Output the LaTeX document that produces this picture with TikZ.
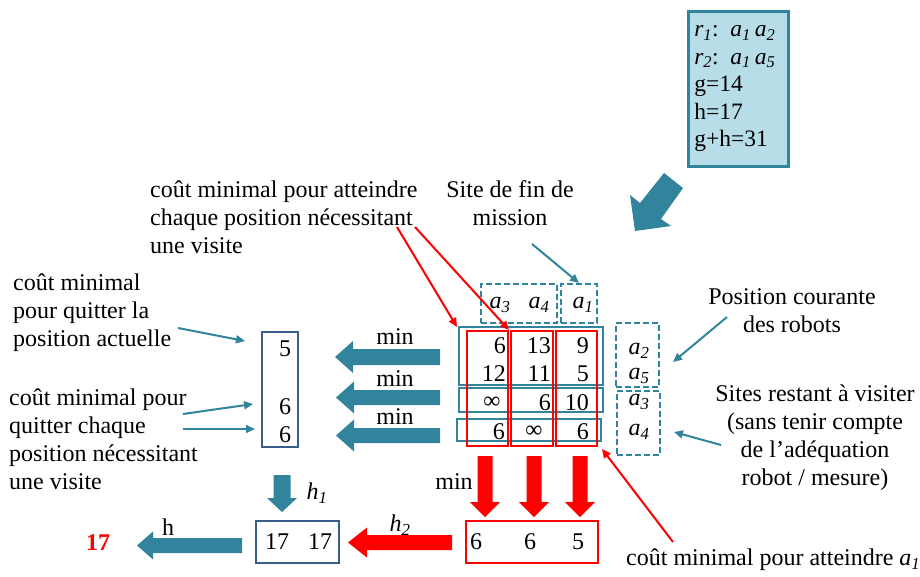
\documentclass[tikz,border=0pt]{standalone}
\usepackage{fontspec}
\setmainfont{Liberation Serif}
\usetikzlibrary{arrows.meta}
\definecolor{teal1}{HTML}{31849B}
\definecolor{lblue}{HTML}{B7DEE8}
\definecolor{dblue}{HTML}{385D8A}
\definecolor{myred}{HTML}{FF0000}
\newcommand\myva[1]{\textit{a}\textsubscript{\textit{#1}}}
\newcommand\myvr[1]{\textit{r}\textsubscript{\textit{#1}}}
\newcommand\myvh[1]{\textit{h}\textsubscript{\textit{#1}}}
\newcommand\myLarrow[7]{\fill[#1] (#2,#3) -- (#4,#3-#7) -- (#4,#3-#6) -- (#5,#3-#6) -- (#5,#3+#6) -- (#4,#3+#6) -- (#4,#3+#7) -- cycle;}
\newcommand\myDarrow[7]{\fill[#1] (#2,#3) -- (#2-#7,#4) -- (#2-#6,#4) -- (#2-#6,#5) -- (#2+#6,#5) -- (#2+#6,#4) -- (#2+#7,#4) -- cycle;}
\begin{document}
\begin{tikzpicture}[x=1pt,y=-1pt, font=\fontsize{24}{28}\selectfont,
 txt/.style={inner sep=0pt},
 num/.style={inner sep=0pt, anchor=east},
 tealbox/.style={draw=teal1, line width=2pt, inner sep=0pt},
 redbox/.style={draw=myred, line width=2pt, inner sep=0pt},
 dashbox/.style={draw=teal1, line width=2pt, dash pattern=on 6pt off 3pt, inner sep=0pt},
 bluebox/.style={draw=dblue, line width=2pt, inner sep=0pt},
 tealarr/.style={draw=teal1, line width=2pt, -{Triangle[length=9pt,width=8pt]}},
 redarr/.style={draw=myred, line width=2pt, -{Triangle[length=9pt,width=8pt]}},
]
\useasboundingbox[fill=white] (0,0) rectangle (920,576);

% info box
\node[draw=teal1, fill=lblue, line width=2.5pt, anchor=north west, minimum height=155pt,
      text width=88pt, inner xsep=6pt, align=left, font=\fontsize{23.5}{27.5}\selectfont] (info) at (687,10)
  {\myvr{1}: \myva{1}\,\myva{2}\\ \myvr{2}: \myva{1}\,\myva{5}\\ g=14\\ h=17\\ g+h=31};
\fill[teal1] (664,173) -- (683,188) -- (661,219) -- (671,226) -- (635,231) -- (630,195) -- (640,203) -- cycle;

% matrix boxes
\node[tealbox, minimum width=144pt, minimum height=58pt] (row12) at (531,356) {};
\node[tealbox, minimum width=144pt, minimum height=24pt] (row3) at (531,400) {};
\node[tealbox, minimum width=144pt, minimum height=22pt] (row4) at (529,430) {};
\node[redbox, minimum width=41pt, minimum height=115pt] (col1) at (487.5,388.5) {};
\node[redbox, minimum width=42pt, minimum height=115pt] (col2) at (532,388.5) {};
\node[redbox, minimum width=41pt, minimum height=115pt] (col3) at (576.5,388.5) {};
\node[dashbox, minimum width=76pt, minimum height=39pt] (dA34) at (519,303.5) {};
\node[dashbox, minimum width=36pt, minimum height=39pt] (dA1) at (579,303.5) {};
\node[dashbox, minimum width=43pt, minimum height=64pt] (dA25) at (637.5,355) {};
\node[dashbox, minimum width=43pt, minimum height=64pt] (dR34) at (638.5,423) {};

% matrix labels
\node[txt] (la3) at (500,305) {\myva{3}};
\node[txt] (la4) at (539,305) {\myva{4}};
\node[txt] (la1) at (583,305) {\myva{1}};
\node[txt] (ra2) at (639,351) {\myva{2}};
\node[txt] (ra5) at (639,376) {\myva{5}};
\node[txt] (ra3) at (639,402) {\myva{3}};
\node[txt] (ra4) at (639,432) {\myva{4}};

% numbers
\node[num] (m11) at (506,346) {6};
\node[num] (m12) at (551,346) {13};
\node[num] (m13) at (589,346) {9};
\node[num] (m21) at (506,374) {12};
\node[num] (m22) at (551,374) {11};
\node[num] (m23) at (589,374) {5};
\node[txt] (m31) at (492,403) {∞};
\node[num] (m32) at (551,403) {6};
\node[num] (m33) at (589,403) {10};
\node[num] (m41) at (505,432) {6};
\node[txt] (m42) at (534,432) {∞};
\node[num] (m43) at (589,432) {6};

% min arrows to the left
\myLarrow{teal1}{335}{357}{353}{440}{8}{16}
\myLarrow{teal1}{336}{397.5}{354}{440}{7.5}{16}
\myLarrow{teal1}{336}{435.5}{354}{440}{7.5}{16}
\node[txt] (min1) at (395,337) {min};
\node[txt] (min2) at (395,379) {min};
\node[txt] (min3) at (395,417) {min};

% left box
\node[bluebox, minimum width=36pt, minimum height=115pt] (lbox) at (280,389.5) {};
\node[txt] (l1) at (285,349) {5};
\node[txt] (l2) at (285,407) {6};
\node[txt] (l3) at (285,435) {6};

% red down arrows + bottom row
\myDarrow{myred}{485}{517}{502}{456}{7.5}{15}
\myDarrow{myred}{534}{517}{502}{456}{7.5}{15}
\myDarrow{myred}{580}{517}{502}{456}{7.5}{15}
\node[txt] (minb) at (454,482) {min};
\node[redbox, minimum width=132pt, minimum height=42pt] (rbox) at (532,542) {};
\node[txt] (b1) at (476,542) {6};
\node[txt] (b2) at (530,542) {6};
\node[txt] (b3) at (578,542) {5};
\myLarrow{myred}{348}{542.5}{367}{452}{7.5}{15}
\node[txt] (h2) at (400,525) {\myvh{2}};
\node[bluebox, minimum width=83pt, minimum height=42pt] (hbox) at (297.5,542) {};
\node[txt] (c1) at (277,542) {17};
\node[txt] (c2) at (320,542) {17};
\myDarrow{teal1}{282}{512}{498}{475}{8.5}{15}
\node[txt] (h1) at (317,493) {\myvh{1}};
\myLarrow{teal1}{137}{545.5}{153}{242}{7.5}{14}
\node[txt] (hh) at (168,527) {h};
\node[txt, text=myred, font=\fontsize{24}{28}\selectfont\bfseries] (res) at (98,543) {17};

% annotation texts
\node[txt, anchor=west, align=left] (tlt) at (150,217)
  {coût minimal pour atteindre\\chaque position nécessitant\\une visite};
\node[txt, align=center] (site) at (510,203.5) {Site de fin de\\mission};
\node[txt, align=center] (pos) at (792,311) {Position courante\\des robots};
\node[txt, align=center] (sites) at (815,437.5)
  {Sites restant à visiter\\(sans tenir compte\\de l’adéquation\\robot / mesure)};
\node[txt, anchor=west] (cma1) at (626,560) {coût minimal pour atteindre \myva{1}};
\node[txt, anchor=west, align=left] (lq1) at (13,313)
  {coût minimal\\pour quitter la\\position actuelle};
\node[txt, anchor=west, align=left] (lq2) at (9,439.5)
  {coût minimal pour\\quitter chaque\\position nécessitant\\une visite};

% connectors
\coordinate (s1) at (532,244);
\draw[tealarr] (s1) -- (dA1.north);
\coordinate (p1) at (727,317);
\coordinate (p2) at (673,362);
\draw[tealarr] (p1) -- (p2);
\coordinate (q1) at (721,445);
\coordinate (q2) at (674,432);
\draw[tealarr] (q1) -- (q2);
\coordinate (u1) at (178,328);
\coordinate (u2) at (245,341);
\draw[tealarr] (u1) -- (u2);
\coordinate (v1) at (183,414);
\coordinate (v2) at (253,404);
\draw[tealarr] (v1) -- (v2);
\coordinate (w1) at (183,429);
\coordinate (w2) at (255,429);
\draw[tealarr] (w1) -- (w2);
\coordinate (r1) at (397,227);
\coordinate (r1e) at (457,327);
\draw[redarr] (r1) -- (r1e);
\coordinate (r2) at (415,227);
\draw[redarr] (r2) -- (col1.north east);
\coordinate (r3) at (673,542);
\coordinate (r3e) at (602,449);
\draw[redarr] (r3) -- (r3e);
\end{tikzpicture}
\end{document}
